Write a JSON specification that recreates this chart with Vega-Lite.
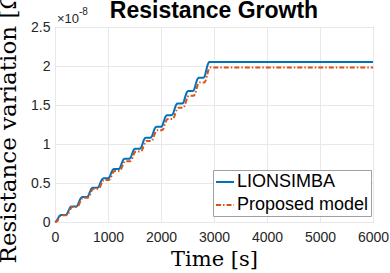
{
  "$schema": "https://vega.github.io/schema/vega-lite/v6.json",
  "width": 318,
  "height": 195,
  "autosize": {"type": "none"},
  "padding": {"left": 55, "top": 27, "right": 17, "bottom": 51},
  "background": "white",
  "config": {
    "view": {"stroke": "#a0a0a0", "strokeWidth": 1},
    "axis": {
      "labelFont": "Liberation Sans",
      "labelFontSize": 14,
      "labelColor": "#262626",
      "titleFont": "DejaVu Serif",
      "titleFontWeight": "normal",
      "titleColor": "black",
      "gridColor": "#e8e8e8",
      "gridWidth": 1,
      "domain": false,
      "ticks": false,
      "labelFlush": false,
      "labelOverlap": false
    }
  },
  "datasets": {
    "curves": [
      {"s": "LIONSIMBA", "t": 0, "v": 0},
      {"s": "LIONSIMBA", "t": 30, "v": 0.014},
      {"s": "LIONSIMBA", "t": 55, "v": 0.045},
      {"s": "LIONSIMBA", "t": 85, "v": 0.078},
      {"s": "LIONSIMBA", "t": 115, "v": 0.09},
      {"s": "LIONSIMBA", "t": 200, "v": 0.09},
      {"s": "LIONSIMBA", "t": 230, "v": 0.107},
      {"s": "LIONSIMBA", "t": 255, "v": 0.145},
      {"s": "LIONSIMBA", "t": 285, "v": 0.186},
      {"s": "LIONSIMBA", "t": 315, "v": 0.2},
      {"s": "LIONSIMBA", "t": 400, "v": 0.2},
      {"s": "LIONSIMBA", "t": 430, "v": 0.218},
      {"s": "LIONSIMBA", "t": 455, "v": 0.26},
      {"s": "LIONSIMBA", "t": 485, "v": 0.304},
      {"s": "LIONSIMBA", "t": 515, "v": 0.32},
      {"s": "LIONSIMBA", "t": 600, "v": 0.32},
      {"s": "LIONSIMBA", "t": 630, "v": 0.338},
      {"s": "LIONSIMBA", "t": 655, "v": 0.38},
      {"s": "LIONSIMBA", "t": 685, "v": 0.424},
      {"s": "LIONSIMBA", "t": 715, "v": 0.44},
      {"s": "LIONSIMBA", "t": 800, "v": 0.44},
      {"s": "LIONSIMBA", "t": 830, "v": 0.458},
      {"s": "LIONSIMBA", "t": 855, "v": 0.5},
      {"s": "LIONSIMBA", "t": 885, "v": 0.544},
      {"s": "LIONSIMBA", "t": 915, "v": 0.56},
      {"s": "LIONSIMBA", "t": 1000, "v": 0.56},
      {"s": "LIONSIMBA", "t": 1030, "v": 0.578},
      {"s": "LIONSIMBA", "t": 1055, "v": 0.62},
      {"s": "LIONSIMBA", "t": 1085, "v": 0.664},
      {"s": "LIONSIMBA", "t": 1115, "v": 0.68},
      {"s": "LIONSIMBA", "t": 1200, "v": 0.68},
      {"s": "LIONSIMBA", "t": 1230, "v": 0.7},
      {"s": "LIONSIMBA", "t": 1255, "v": 0.745},
      {"s": "LIONSIMBA", "t": 1285, "v": 0.793},
      {"s": "LIONSIMBA", "t": 1315, "v": 0.81},
      {"s": "LIONSIMBA", "t": 1400, "v": 0.81},
      {"s": "LIONSIMBA", "t": 1430, "v": 0.83},
      {"s": "LIONSIMBA", "t": 1455, "v": 0.875},
      {"s": "LIONSIMBA", "t": 1485, "v": 0.923},
      {"s": "LIONSIMBA", "t": 1515, "v": 0.94},
      {"s": "LIONSIMBA", "t": 1600, "v": 0.94},
      {"s": "LIONSIMBA", "t": 1630, "v": 0.961},
      {"s": "LIONSIMBA", "t": 1655, "v": 1.01},
      {"s": "LIONSIMBA", "t": 1685, "v": 1.062},
      {"s": "LIONSIMBA", "t": 1715, "v": 1.08},
      {"s": "LIONSIMBA", "t": 1800, "v": 1.08},
      {"s": "LIONSIMBA", "t": 1830, "v": 1.101},
      {"s": "LIONSIMBA", "t": 1855, "v": 1.15},
      {"s": "LIONSIMBA", "t": 1885, "v": 1.202},
      {"s": "LIONSIMBA", "t": 1915, "v": 1.22},
      {"s": "LIONSIMBA", "t": 2000, "v": 1.22},
      {"s": "LIONSIMBA", "t": 2030, "v": 1.243},
      {"s": "LIONSIMBA", "t": 2055, "v": 1.295},
      {"s": "LIONSIMBA", "t": 2085, "v": 1.35},
      {"s": "LIONSIMBA", "t": 2115, "v": 1.37},
      {"s": "LIONSIMBA", "t": 2200, "v": 1.37},
      {"s": "LIONSIMBA", "t": 2230, "v": 1.393},
      {"s": "LIONSIMBA", "t": 2255, "v": 1.445},
      {"s": "LIONSIMBA", "t": 2285, "v": 1.5},
      {"s": "LIONSIMBA", "t": 2315, "v": 1.52},
      {"s": "LIONSIMBA", "t": 2400, "v": 1.52},
      {"s": "LIONSIMBA", "t": 2430, "v": 1.544},
      {"s": "LIONSIMBA", "t": 2455, "v": 1.6},
      {"s": "LIONSIMBA", "t": 2485, "v": 1.659},
      {"s": "LIONSIMBA", "t": 2515, "v": 1.68},
      {"s": "LIONSIMBA", "t": 2600, "v": 1.68},
      {"s": "LIONSIMBA", "t": 2630, "v": 1.706},
      {"s": "LIONSIMBA", "t": 2655, "v": 1.765},
      {"s": "LIONSIMBA", "t": 2685, "v": 1.828},
      {"s": "LIONSIMBA", "t": 2715, "v": 1.85},
      {"s": "LIONSIMBA", "t": 2800, "v": 1.85},
      {"s": "LIONSIMBA", "t": 2830, "v": 1.88},
      {"s": "LIONSIMBA", "t": 2855, "v": 1.95},
      {"s": "LIONSIMBA", "t": 2885, "v": 2.024},
      {"s": "LIONSIMBA", "t": 2915, "v": 2.05},
      {"s": "LIONSIMBA", "t": 3000, "v": 2.05},
      {"s": "LIONSIMBA", "t": 6000, "v": 2.05},
      {"s": "Proposed model", "t": 0, "v": 0},
      {"s": "Proposed model", "t": 45, "v": 0.013},
      {"s": "Proposed model", "t": 70, "v": 0.044},
      {"s": "Proposed model", "t": 100, "v": 0.076},
      {"s": "Proposed model", "t": 130, "v": 0.087},
      {"s": "Proposed model", "t": 215, "v": 0.087},
      {"s": "Proposed model", "t": 245, "v": 0.103},
      {"s": "Proposed model", "t": 270, "v": 0.14},
      {"s": "Proposed model", "t": 300, "v": 0.179},
      {"s": "Proposed model", "t": 330, "v": 0.193},
      {"s": "Proposed model", "t": 415, "v": 0.193},
      {"s": "Proposed model", "t": 445, "v": 0.211},
      {"s": "Proposed model", "t": 470, "v": 0.252},
      {"s": "Proposed model", "t": 500, "v": 0.295},
      {"s": "Proposed model", "t": 530, "v": 0.31},
      {"s": "Proposed model", "t": 615, "v": 0.31},
      {"s": "Proposed model", "t": 645, "v": 0.327},
      {"s": "Proposed model", "t": 670, "v": 0.368},
      {"s": "Proposed model", "t": 700, "v": 0.41},
      {"s": "Proposed model", "t": 730, "v": 0.425},
      {"s": "Proposed model", "t": 815, "v": 0.425},
      {"s": "Proposed model", "t": 845, "v": 0.442},
      {"s": "Proposed model", "t": 870, "v": 0.483},
      {"s": "Proposed model", "t": 900, "v": 0.525},
      {"s": "Proposed model", "t": 930, "v": 0.54},
      {"s": "Proposed model", "t": 1015, "v": 0.54},
      {"s": "Proposed model", "t": 1045, "v": 0.557},
      {"s": "Proposed model", "t": 1070, "v": 0.598},
      {"s": "Proposed model", "t": 1100, "v": 0.64},
      {"s": "Proposed model", "t": 1130, "v": 0.655},
      {"s": "Proposed model", "t": 1215, "v": 0.655},
      {"s": "Proposed model", "t": 1245, "v": 0.674},
      {"s": "Proposed model", "t": 1270, "v": 0.718},
      {"s": "Proposed model", "t": 1300, "v": 0.764},
      {"s": "Proposed model", "t": 1330, "v": 0.78},
      {"s": "Proposed model", "t": 1415, "v": 0.78},
      {"s": "Proposed model", "t": 1445, "v": 0.799},
      {"s": "Proposed model", "t": 1470, "v": 0.843},
      {"s": "Proposed model", "t": 1500, "v": 0.889},
      {"s": "Proposed model", "t": 1530, "v": 0.905},
      {"s": "Proposed model", "t": 1615, "v": 0.905},
      {"s": "Proposed model", "t": 1645, "v": 0.925},
      {"s": "Proposed model", "t": 1670, "v": 0.973},
      {"s": "Proposed model", "t": 1700, "v": 1.022},
      {"s": "Proposed model", "t": 1730, "v": 1.04},
      {"s": "Proposed model", "t": 1815, "v": 1.04},
      {"s": "Proposed model", "t": 1845, "v": 1.06},
      {"s": "Proposed model", "t": 1870, "v": 1.108},
      {"s": "Proposed model", "t": 1900, "v": 1.157},
      {"s": "Proposed model", "t": 1930, "v": 1.175},
      {"s": "Proposed model", "t": 2015, "v": 1.175},
      {"s": "Proposed model", "t": 2045, "v": 1.197},
      {"s": "Proposed model", "t": 2070, "v": 1.248},
      {"s": "Proposed model", "t": 2100, "v": 1.301},
      {"s": "Proposed model", "t": 2130, "v": 1.32},
      {"s": "Proposed model", "t": 2215, "v": 1.32},
      {"s": "Proposed model", "t": 2245, "v": 1.342},
      {"s": "Proposed model", "t": 2270, "v": 1.393},
      {"s": "Proposed model", "t": 2300, "v": 1.446},
      {"s": "Proposed model", "t": 2330, "v": 1.465},
      {"s": "Proposed model", "t": 2415, "v": 1.465},
      {"s": "Proposed model", "t": 2445, "v": 1.488},
      {"s": "Proposed model", "t": 2470, "v": 1.543},
      {"s": "Proposed model", "t": 2500, "v": 1.6},
      {"s": "Proposed model", "t": 2530, "v": 1.62},
      {"s": "Proposed model", "t": 2615, "v": 1.62},
      {"s": "Proposed model", "t": 2645, "v": 1.646},
      {"s": "Proposed model", "t": 2670, "v": 1.705},
      {"s": "Proposed model", "t": 2700, "v": 1.768},
      {"s": "Proposed model", "t": 2730, "v": 1.79},
      {"s": "Proposed model", "t": 2815, "v": 1.79},
      {"s": "Proposed model", "t": 2845, "v": 1.818},
      {"s": "Proposed model", "t": 2870, "v": 1.885},
      {"s": "Proposed model", "t": 2900, "v": 1.955},
      {"s": "Proposed model", "t": 2930, "v": 1.98},
      {"s": "Proposed model", "t": 3000, "v": 1.98},
      {"s": "Proposed model", "t": 6000, "v": 1.98}
    ]
  },
  "encoding": {
    "x": {
      "field": "t",
      "type": "quantitative",
      "scale": {"domain": [0, 6000], "nice": false},
      "axis": {
        "values": [0, 1000, 2000, 3000, 4000, 5000, 6000],
        "format": "d",
        "title": "Time [s]",
        "titleFontSize": 21,
        "labelPadding": 8,
        "titleY": 43,
        "titleBaseline": "alphabetic"
      }
    },
    "y": {
      "field": "v",
      "type": "quantitative",
      "scale": {"domain": [0, 2.5], "nice": false},
      "axis": {
        "values": [0, 0.5, 1, 1.5, 2, 2.5],
        "format": "~g",
        "title": "Resistance variation [Ω]",
        "titleFontSize": 23,
        "labelPadding": 5,
        "titleX": -47,
        "titleY": 95,
        "titleAngle": -90,
        "titleBaseline": "middle",
        "titleAlign": "center"
      }
    }
  },
  "layer": [
    {
      "data": {"name": "curves"},
      "mark": {"type": "line", "interpolate": "monotone", "strokeWidth": 2},
      "encoding": {
        "color": {
          "field": "s",
          "type": "nominal",
          "scale": {"domain": ["LIONSIMBA", "Proposed model"], "range": ["#0072BD", "#D95319"]},
          "legend": {
            "title": null,
            "orient": "none",
            "legendX": 158,
            "legendY": 143,
            "fillColor": "white",
            "strokeColor": "#a0a0a0",
            "padding": 2,
            "rowPadding": 4,
            "symbolType": "stroke",
            "symbolSize": 324,
            "symbolStrokeWidth": 2,
            "labelOffset": 2,
            "labelFont": "Liberation Sans",
            "labelFontSize": 18,
            "labelColor": "black"
          }
        },
        "strokeDash": {
          "field": "s",
          "type": "nominal",
          "scale": {"domain": ["LIONSIMBA", "Proposed model"], "range": [[1, 0], [5, 2, 1.5, 2]]},
          "legend": {
            "title": null,
            "orient": "none",
            "legendX": 158,
            "legendY": 143,
            "fillColor": "white",
            "strokeColor": "#a0a0a0",
            "padding": 2,
            "rowPadding": 4,
            "symbolType": "stroke",
            "symbolSize": 324,
            "symbolStrokeWidth": 2,
            "labelOffset": 2,
            "labelFont": "Liberation Sans",
            "labelFontSize": 18,
            "labelColor": "black"
          }
        }
      }
    },
    {
      "data": {"values": [{"label": "Resistance Growth", "t": 3000, "v": 2.5}]},
      "mark": {"type": "text", "align": "center", "baseline": "alphabetic", "dy": -9, "font": "Liberation Sans", "fontSize": 23, "fontWeight": "bold", "color": "black"},
      "encoding": {"text": {"field": "label"}}
    },
    {
      "data": {"values": [{"label": "×10", "t": 0, "v": 2.5}]},
      "mark": {"type": "text", "align": "left", "baseline": "alphabetic", "dx": 2, "dy": -4, "font": "Liberation Sans", "fontSize": 13, "color": "#262626"},
      "encoding": {"text": {"field": "label"}}
    },
    {
      "data": {"values": [{"label": "-8", "t": 0, "v": 2.5}]},
      "mark": {"type": "text", "align": "left", "baseline": "alphabetic", "dx": 24, "dy": -12, "font": "Liberation Sans", "fontSize": 10, "color": "#262626"},
      "encoding": {"text": {"field": "label"}}
    }
  ]
}
